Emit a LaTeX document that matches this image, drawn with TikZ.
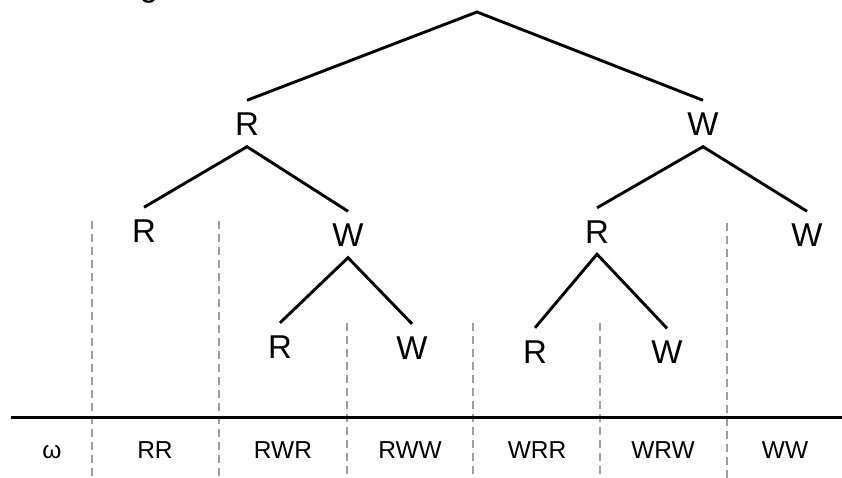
\documentclass[tikz,border=0pt]{standalone}
\usepackage{fontspec}
\setmainfont{Liberation Sans}
\tikzset{
  lbl/.style={font=\fontsize{33}{38}\selectfont, text height=24pt, text depth=0pt, inner xsep=0pt, inner ysep=11pt},
  outcome/.style={font=\fontsize{24.5}{29}\selectfont, anchor=base},
  branch/.style={line width=2.9pt},
  divider/.style={gray!75, line width=2.4pt, dash pattern=on 8pt off 5pt}
}
\begin{document}
\begin{tikzpicture}[x=1pt,y=-1pt]
\clip (0,0) rectangle (842,478);
\node[anchor=base] (cut) at (149,-3) {\fontsize{33}{38}\selectfont g};

\coordinate (top) at (477,12);
\node[lbl] (r) at (247,123.5) {R};
\node[lbl] (w) at (703,123.5) {W};
\node[lbl] (rr) at (144,230.5) {R};
\node[lbl] (rw) at (348,234.5) {W};
\node[lbl] (wr) at (597,231) {R};
\node[lbl] (ww) at (807,234.5) {W};
\node[lbl] (rwr) at (280,346) {R};
\node[lbl] (rww) at (412,347) {W};
\node[lbl] (wrr) at (535,351) {R};
\node[lbl] (wrw) at (667,351.5) {W};

\draw[branch] (r.north) -- (top) -- (w.north);
\draw[branch] (rr.north) -- (r.south) -- (rw.north);
\draw[branch] (wr.north) -- (w.south) -- (ww.north);
\draw[branch] (rwr.north) -- (rw.south) -- (rww.north);
\draw[branch] (wrr.north) -- (wr.south) -- (wrw.north);

\foreach \x/\y in {92/221, 219/221, 347/323, 473/323, 600/323, 727/223}
  \draw[divider] (\x,\y) -- (\x,480);

\draw[line width=3pt] (11,417) -- (845,417);

\foreach \x/\t [count=\i] in {52/ω, 155/RR, 283/RWR, 410/RWW, 537/WRR, 663/WRW, 785/WW}
  \node[outcome] (o\i) at (\x,458.5) {\t};
\end{tikzpicture}
\end{document}
